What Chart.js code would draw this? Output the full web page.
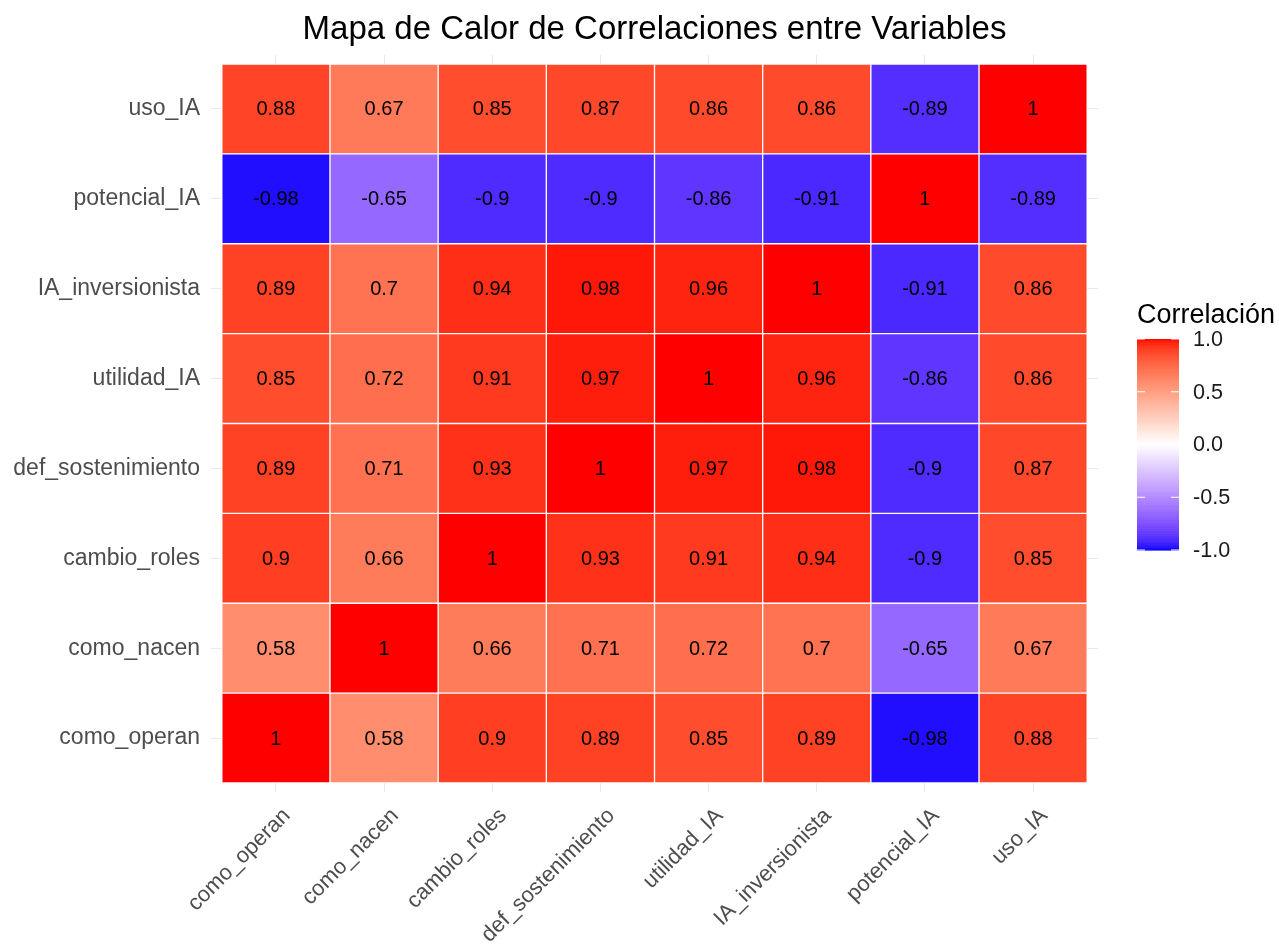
<!DOCTYPE html>
<html>
<head>
<meta charset="utf-8">
<script src="https://cdn.jsdelivr.net/npm/chart.js@4"></script>
<style>
  html, body { margin: 0; padding: 0; background: #ffffff; }
  .chartContainer { width: 1279px; height: 944px; position: relative; }
</style>
</head>
<body>
<div class="chartContainer"><canvas id="myChart"></canvas></div>
<script>
// ------------------------Data--------------------------------------------
const variables = ["como_operan", "como_nacen", "cambio_roles", "def_sostenimiento",
  "utilidad_IA", "IA_inversionista", "potencial_IA", "uso_IA"]

// one row per variable, columns in the same order as `variables`
const rowComoOperan = [1, 0.58, 0.9, 0.89, 0.85, 0.89, -0.98, 0.88]
const rowComoNacen = [0.58, 1, 0.66, 0.71, 0.72, 0.7, -0.65, 0.67]
const rowCambioRoles = [0.9, 0.66, 1, 0.93, 0.91, 0.94, -0.9, 0.85]
const rowDefSostenimiento = [0.89, 0.71, 0.93, 1, 0.97, 0.98, -0.9, 0.87]
const rowUtilidadIA = [0.85, 0.72, 0.91, 0.97, 1, 0.96, -0.86, 0.86]
const rowIAInversionista = [0.89, 0.7, 0.94, 0.98, 0.96, 1, -0.91, 0.86]
const rowPotencialIA = [-0.98, -0.65, -0.9, -0.9, -0.86, -0.91, 1, -0.89]
const rowUsoIA = [0.88, 0.67, 0.85, 0.87, 0.86, 0.86, -0.89, 1]

const rows = [rowComoOperan, rowComoNacen, rowCambioRoles, rowDefSostenimiento,
  rowUtilidadIA, rowIAInversionista, rowPotencialIA, rowUsoIA]

const legendValues = [1, 0.5, 0, -0.5, -1]
const legendLabels = ["1.0", "0.5", "0.0", "-0.5", "-1.0"]

const chartTitle = "Mapa de Calor de Correlaciones entre Variables"
const legendTitle = "Correlación"

// ------------------------Colour scale (blue - white - red, Lab)------------
const toLinear = (c) => {
  c = c / 255
  return c <= 0.04045 ? c / 12.92 : Math.pow((c + 0.055) / 1.055, 2.4)
}
const fromLinear = (c) => {
  const v = c <= 0.0031308 ? 12.92 * c : 1.055 * Math.pow(c, 1 / 2.4) - 0.055
  return Math.round(Math.min(1, Math.max(0, v)) * 255)
}
const rgbToLab = ([r, g, b]) => {
  r = toLinear(r); g = toLinear(g); b = toLinear(b)
  const X = (0.4124564 * r + 0.3575761 * g + 0.1804375 * b) / 0.95047
  const Y = (0.2126729 * r + 0.7151522 * g + 0.0721750 * b)
  const Z = (0.0193339 * r + 0.1191920 * g + 0.9503041 * b) / 1.08883
  const f = (t) => t > 0.008856 ? Math.cbrt(t) : 7.787 * t + 16 / 116
  return [116 * f(Y) - 16, 500 * (f(X) - f(Y)), 200 * (f(Y) - f(Z))]
}
const labToRgb = ([L, a, bb]) => {
  const fy = (L + 16) / 116
  const fx = fy + a / 500
  const fz = fy - bb / 200
  const inv = (t) => t > 0.206893 ? t * t * t : (t - 16 / 116) / 7.787
  const X = inv(fx) * 0.95047, Y = inv(fy), Z = inv(fz) * 1.08883
  const r = 3.2404542 * X - 1.5371385 * Y - 0.4985314 * Z
  const g = -0.9692660 * X + 1.8760108 * Y + 0.0415560 * Z
  const b = 0.0556434 * X - 0.2040259 * Y + 1.0572252 * Z
  return [fromLinear(r), fromLinear(g), fromLinear(b)]
}
const labLow = rgbToLab([0, 0, 255])
const labMid = rgbToLab([255, 255, 255])
const labHigh = rgbToLab([255, 0, 0])

let corrColor = (v) => {
  const t = Math.min(1, Math.abs(v))
  const end = v >= 0 ? labHigh : labLow
  const lab = labMid.map((m, k) => m + (end[k] - m) * t)
  const [r, g, b] = labToRgb(lab)
  return `rgb(${r}, ${g}, ${b})`
}

// ------------------------Plugins-----------------------------------------
const cellText = {
  id: 'cellText',
  afterDatasetsDraw(chart) {
    const ctx = chart.ctx
    ctx.save()
    ctx.font = '20px "Liberation Sans", Arial, sans-serif'
    ctx.fillStyle = '#000000'
    ctx.textAlign = 'center'
    ctx.textBaseline = 'middle'
    chart.data.datasets.forEach((ds, di) => {
      chart.getDatasetMeta(di).data.forEach((bar, i) => {
        const { x, y, base } = bar.getProps(['x', 'y', 'base'], true)
        ctx.fillText(String(ds.data[i].v), x, (y + base) / 2 + 1)
      })
    })
    ctx.restore()
  }
}

const titleAndLegend = {
  id: 'titleAndLegend',
  afterDraw(chart) {
    const ctx = chart.ctx
    const area = chart.chartArea
    ctx.save()

    // title centred over the panel
    ctx.font = '33px "Liberation Sans", Arial, sans-serif'
    ctx.fillStyle = '#000000'
    ctx.textAlign = 'center'
    ctx.textBaseline = 'alphabetic'
    ctx.fillText(chartTitle, (area.left + area.right) / 2, 39)

    // colour bar
    const barLeft = 1137, barWidth = 42, barTop = 339, barHeight = 211
    const steps = 300
    for (let s = 0; s < steps; s++) {
      const v = 1 - 2 * (s + 0.5) / steps
      ctx.fillStyle = corrColor(v)
      ctx.fillRect(barLeft, barTop + s * barHeight / steps, barWidth, barHeight / steps + 0.6)
    }

    ctx.font = '27px "Liberation Sans", Arial, sans-serif'
    ctx.fillStyle = '#000000'
    ctx.textAlign = 'left'
    ctx.fillText(legendTitle, 1137, 323)

    ctx.font = '21.6px "Liberation Sans", Arial, sans-serif'
    ctx.fillStyle = '#1a1a1a'
    ctx.textBaseline = 'middle'
    legendValues.forEach((v, i) => {
      const y = barTop + (1 - v) / 2 * barHeight
      ctx.strokeStyle = '#ffffff'
      ctx.lineWidth = 1
      ctx.beginPath()
      ctx.moveTo(barLeft, y); ctx.lineTo(barLeft + 8, y)
      ctx.moveTo(barLeft + barWidth - 8, y); ctx.lineTo(barLeft + barWidth, y)
      ctx.stroke()
      ctx.fillText(legendLabels[i], 1193, y + 1)
    })

    ctx.restore()
  }
}

// ------------------------Initialize Chart------------------------------------
let initializeChart = () => {
  const datasets = rows.map((row, r) => ({
    data: row.map((v, c) => ({ x: c + 1, y: [r + 0.5, r + 1.5], v: v })),
    backgroundColor: row.map((v) => corrColor(v)),
    borderColor: '#ffffff',
    borderWidth: 1,
    borderSkipped: false,
    grouped: false,
    barPercentage: 1,
    categoryPercentage: 1
  }))

  const axisTicks = (scale) => {
    scale.ticks = variables.map((_, i) => ({ value: i + 1 }))
  }

  const chartConfig = {
    type: 'bar',
    data: { datasets: datasets },
    options: {
      responsive: true,
      maintainAspectRatio: false,
      animation: false,
      layout: { padding: { top: 55, right: 181, left: 0, bottom: 0 } },
      plugins: {
        legend: { display: false },
        tooltip: { enabled: false },
        title: { display: false }
      },
      scales: {
        x: {
          type: 'linear',
          min: 0.4,
          max: 8.6,
          offset: false,
          afterBuildTicks: axisTicks,
          afterFit: (scale) => { scale.height = 152 },
          border: { display: false },
          grid: { color: '#ebebeb', lineWidth: 1, drawTicks: false, offset: false },
          ticks: {
            autoSkip: false,
            minRotation: 45,
            maxRotation: 45,
            padding: 11,
            labelOffset: 11,
            color: '#4d4d4d',
            font: { family: '"Liberation Sans", Arial, sans-serif', size: 22 },
            callback: (v) => variables[v - 1]
          }
        },
        y: {
          type: 'linear',
          min: 0.4,
          max: 8.6,
          afterBuildTicks: axisTicks,
          afterFit: (scale) => { scale.width = 211 },
          border: { display: false },
          grid: { color: '#ebebeb', lineWidth: 1, drawTicks: false },
          ticks: {
            autoSkip: false,
            padding: 11,
            color: '#4d4d4d',
            font: { family: '"Liberation Sans", Arial, sans-serif', size: 23 },
            callback: (v) => variables[v - 1]
          }
        }
      }
    },
    plugins: [cellText, titleAndLegend]
  }
  const chartCanvas = document.getElementById('myChart')
  return new Chart(chartCanvas, chartConfig)
}
const myChart = initializeChart()
</script>
</body>
</html>
